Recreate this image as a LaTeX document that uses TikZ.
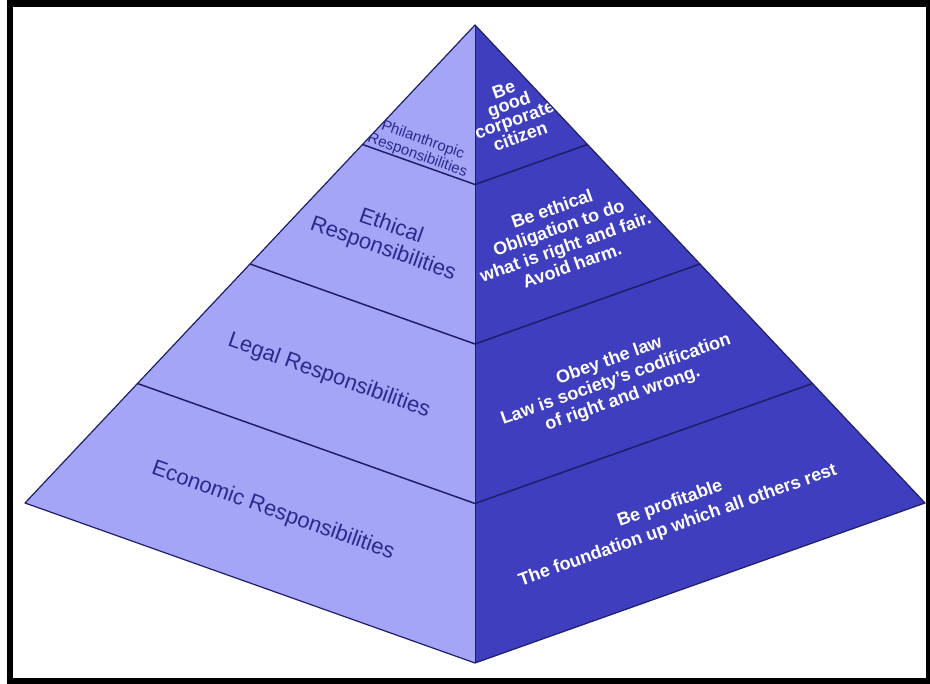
\documentclass[tikz,border=0pt]{standalone}
\usepackage{fontspec}
\setmainfont{Liberation Sans}
\usetikzlibrary{calc}

\definecolor{lightface}{RGB}{164,165,247}
\definecolor{darkface}{RGB}{62,62,190}
\definecolor{edgeblue}{RGB}{30,30,105}
\definecolor{labelblue}{RGB}{42,42,142}

\begin{document}
\begin{tikzpicture}[x=1pt,y=-1pt,
  facelabel/.style={text=labelblue,align=center,inner sep=0pt,rotate=-19.5,
    font=\fontsize{22}{24}\selectfont},
  facenote/.style={text=white,align=center,inner sep=0pt,rotate=19.5,
    font=\fontsize{18}{20}\selectfont\bfseries},
  ridge/.style={edgeblue,line width=1.5pt,line join=round}]
  \useasboundingbox (0,0) rectangle (930,684);

  % corners of the pyramid
  \coordinate (apex) at (475,25);
  \coordinate (left) at (25,503);
  \coordinate (front) at (475,663);
  \coordinate (right) at (925,503);

  \fill[lightface] (apex) -- (left) -- (front) -- cycle;
  \fill[darkface] (apex) -- (front) -- (right) -- cycle;

  % left face
  \begin{scope}
    \clip (apex) -- (left) -- (front) -- cycle;
    \node (phil) at (420,148) [facelabel,font=\fontsize{15}{16}\selectfont]
      {Philanthropic\\Responsibilities};
    \node (ethical) at (387,238) [facelabel] {Ethical\\Responsibilities};
    \node (legal) at (329,376) [facelabel] {Legal Responsibilities};
    \node (economic) at (273,511) [facelabel] {Economic Responsibilities};
  \end{scope}

  % right face
  \begin{scope}
    \clip (apex) -- (front) -- (right) -- cycle;
    \node (citizen) at (512,113) [facenote,font=\fontsize{18}{15.5}\selectfont\bfseries]
      {Be\\good\\corporate\\citizen};
    \node (ethics) at (562,237) [facenote] {Be ethical\\Obligation to do\\what is right and fair.\\Avoid harm.};
    \node (law) at (616,380) [facenote] {Obey the law\\Law is society's codification\\of right and wrong.};
    \node (profit) at (674,515) [facenote,font=\fontsize{18}{23}\selectfont\bfseries]
      {Be profitable\\The foundation up which all others rest};
  \end{scope}

  % layer boundaries
  \foreach \t in {0.25,0.5,0.75}
    \draw[ridge] ($(apex)!\t!(left)$) -- ($(apex)!\t!(front)$) -- ($(apex)!\t!(right)$);
  \draw[ridge,line width=1.2pt] (apex) -- (left) -- (front) -- (right) -- cycle;
  \draw[ridge,line width=1pt] (apex) -- (front);

  % frame
  \draw[line width=6pt] (10,3) -- (10,681) -- (928,681);
  \draw[line width=7pt] (7,3.5) -- (930,3.5);
  \draw[line width=4pt] (928,0) -- (928,684);
\end{tikzpicture}
\end{document}
